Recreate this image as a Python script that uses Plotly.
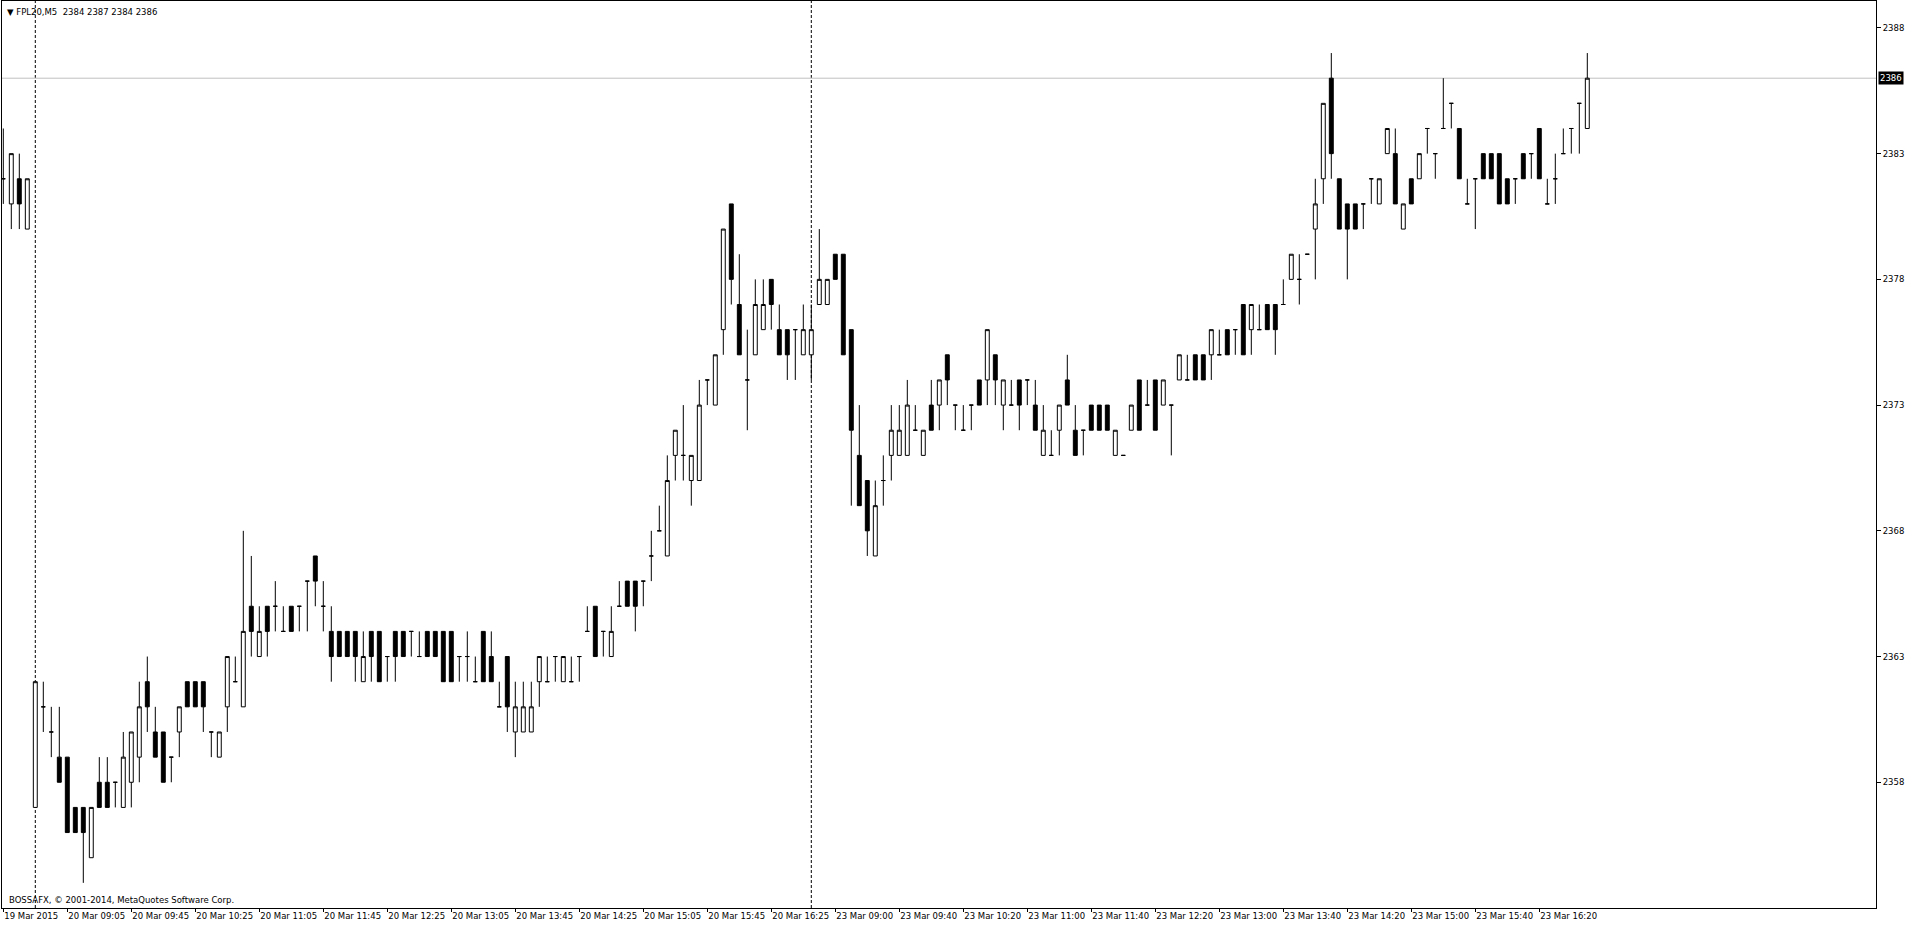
import plotly.graph_objects as go

# ---- data (FPL20, M5) ----
opens = [2382, 2381, 2382, 2380,
         2357, 2361, 2360, 2359, 2359, 2357, 2357, 2355, 2358, 2358, 2358, 2357, 2358, 2359, 2362, 2360,
         2360, 2359, 2360, 2362, 2362, 2362, 2360, 2359, 2361, 2362, 2361, 2365, 2363, 2365, 2365, 2364,
         2365, 2365, 2366, 2367, 2365, 2364, 2364, 2364, 2364, 2362, 2364, 2364, 2363, 2364, 2364, 2364,
         2363, 2364, 2364, 2364, 2364, 2363, 2363, 2362, 2364, 2363, 2361, 2363, 2360, 2360, 2360, 2362,
         2362, 2363, 2362, 2362, 2363, 2364, 2365, 2364, 2363, 2365, 2366, 2366, 2366, 2367, 2368, 2367,
         2371, 2371, 2370, 2370, 2374, 2373, 2376, 2381, 2377, 2374, 2375, 2376, 2378, 2376, 2376, 2376,
         2375, 2375,
         2377, 2377, 2379, 2379, 2376, 2371, 2370, 2367, 2370, 2371, 2371, 2371, 2372, 2371, 2373, 2373,
         2375, 2373, 2372, 2373, 2374, 2374, 2375, 2373, 2373, 2374, 2374, 2373, 2371, 2371, 2372, 2374,
         2372, 2372, 2373, 2373, 2373, 2371, 2371, 2372, 2374, 2373, 2374, 2373, 2373, 2374, 2374, 2375,
         2375, 2375, 2375, 2376, 2376, 2377, 2376, 2376, 2377, 2377, 2377, 2378, 2378, 2379, 2380, 2382,
         2386, 2382, 2381, 2381, 2381, 2382, 2381, 2383, 2383, 2380, 2382, 2382, 2384, 2383, 2384, 2385,
         2384, 2381, 2382, 2383, 2383, 2383, 2382, 2382, 2383, 2383, 2384, 2381, 2382, 2383, 2384, 2385,
         2384]
highs = [2384, 2383, 2383, 2382,
         2362, 2362, 2361, 2361, 2359, 2357, 2357, 2357, 2359, 2359, 2358, 2360, 2360, 2362, 2363, 2361,
         2360, 2359, 2361, 2362, 2362, 2362, 2360, 2360, 2363, 2363, 2368, 2367, 2365, 2365, 2366, 2365,
         2365, 2365, 2366, 2367, 2366, 2365, 2364, 2364, 2364, 2364, 2364, 2364, 2363, 2364, 2364, 2364,
         2364, 2364, 2364, 2364, 2364, 2363, 2364, 2363, 2364, 2364, 2362, 2363, 2362, 2362, 2362, 2363,
         2363, 2363, 2363, 2363, 2363, 2365, 2365, 2364, 2365, 2366, 2366, 2366, 2366, 2368, 2369, 2371,
         2372, 2373, 2371, 2374, 2374, 2375, 2380, 2381, 2379, 2376, 2378, 2378, 2378, 2377, 2376, 2376,
         2377, 2377,
         2380, 2378, 2379, 2379, 2376, 2373, 2370, 2370, 2371, 2373, 2373, 2374, 2373, 2372, 2374, 2374,
         2375, 2373, 2373, 2373, 2374, 2376, 2375, 2374, 2374, 2374, 2374, 2374, 2373, 2372, 2373, 2375,
         2373, 2372, 2373, 2373, 2373, 2372, 2371, 2373, 2374, 2374, 2374, 2374, 2373, 2375, 2375, 2375,
         2375, 2376, 2376, 2376, 2376, 2377, 2377, 2377, 2377, 2377, 2378, 2379, 2379, 2379, 2382, 2385,
         2387, 2382, 2381, 2381, 2381, 2382, 2382, 2384, 2384, 2381, 2382, 2383, 2384, 2383, 2386, 2385,
         2384, 2382, 2382, 2383, 2383, 2383, 2382, 2382, 2383, 2383, 2384, 2382, 2383, 2384, 2384, 2385,
         2387]
lows = [2381, 2380, 2380, 2380,
        2357, 2360, 2359, 2358, 2356, 2356, 2354, 2355, 2357, 2357, 2357, 2357, 2357, 2358, 2360, 2359,
        2358, 2358, 2359, 2361, 2361, 2360, 2359, 2359, 2360, 2362, 2361, 2363, 2363, 2363, 2364, 2364,
        2364, 2364, 2364, 2365, 2364, 2362, 2363, 2363, 2362, 2362, 2362, 2362, 2362, 2362, 2363, 2363,
        2363, 2363, 2363, 2363, 2362, 2362, 2362, 2362, 2362, 2362, 2361, 2360, 2359, 2360, 2360, 2361,
        2362, 2362, 2362, 2362, 2362, 2364, 2363, 2363, 2363, 2365, 2365, 2364, 2365, 2366, 2368, 2367,
        2370, 2370, 2369, 2370, 2373, 2373, 2375, 2377, 2375, 2372, 2375, 2376, 2376, 2375, 2374, 2374,
        2375, 2374,
        2377, 2377, 2378, 2375, 2369, 2369, 2367, 2367, 2369, 2370, 2371, 2371, 2372, 2371, 2372, 2372,
        2373, 2372, 2372, 2372, 2373, 2373, 2373, 2372, 2373, 2372, 2373, 2372, 2371, 2371, 2371, 2373,
        2371, 2371, 2372, 2372, 2372, 2371, 2371, 2372, 2372, 2373, 2372, 2373, 2371, 2374, 2374, 2374,
        2374, 2374, 2375, 2375, 2375, 2375, 2375, 2376, 2376, 2375, 2377, 2378, 2377, 2379, 2378, 2381,
        2382, 2380, 2378, 2380, 2380, 2381, 2381, 2383, 2381, 2380, 2381, 2382, 2383, 2382, 2384, 2384,
        2382, 2381, 2380, 2382, 2382, 2381, 2381, 2381, 2382, 2382, 2382, 2381, 2381, 2383, 2383, 2383,
        2384]
closes = [2382, 2383, 2381, 2382,
          2362, 2361, 2360, 2358, 2356, 2356, 2356, 2357, 2357, 2357, 2358, 2359, 2360, 2361, 2361, 2359,
          2358, 2359, 2361, 2361, 2361, 2361, 2360, 2360, 2363, 2362, 2364, 2364, 2364, 2364, 2365, 2364,
          2364, 2365, 2366, 2366, 2365, 2363, 2363, 2363, 2363, 2363, 2363, 2362, 2363, 2363, 2363, 2364,
          2363, 2363, 2363, 2362, 2362, 2363, 2363, 2362, 2362, 2362, 2361, 2361, 2361, 2361, 2361, 2363,
          2362, 2363, 2363, 2362, 2363, 2364, 2363, 2364, 2364, 2365, 2365, 2365, 2366, 2367, 2368, 2370,
          2372, 2371, 2371, 2373, 2374, 2375, 2380, 2378, 2375, 2374, 2377, 2377, 2377, 2375, 2375, 2376,
          2376, 2376,
          2378, 2378, 2378, 2375, 2372, 2369, 2368, 2369, 2370, 2372, 2372, 2373, 2372, 2372, 2372, 2374,
          2374, 2373, 2372, 2373, 2373, 2376, 2374, 2374, 2373, 2373, 2374, 2372, 2372, 2371, 2373, 2373,
          2371, 2372, 2372, 2372, 2372, 2372, 2371, 2373, 2372, 2373, 2372, 2374, 2373, 2375, 2374, 2374,
          2374, 2376, 2375, 2375, 2376, 2375, 2377, 2376, 2376, 2376, 2377, 2379, 2378, 2379, 2381, 2385,
          2383, 2380, 2380, 2380, 2381, 2382, 2382, 2384, 2381, 2381, 2381, 2383, 2384, 2383, 2384, 2385,
          2382, 2381, 2382, 2382, 2382, 2381, 2381, 2382, 2382, 2383, 2382, 2381, 2382, 2383, 2384, 2385,
          2386]

day_start_bars = [4, 101]            # first bar of 20 Mar and of 23 Mar
time_labels = ["19 Mar 2015", "20 Mar 09:05", "20 Mar 09:45", "20 Mar 10:25", "20 Mar 11:05",
               "20 Mar 11:45", "20 Mar 12:25", "20 Mar 13:05", "20 Mar 13:45", "20 Mar 14:25",
               "20 Mar 15:05", "20 Mar 15:45", "20 Mar 16:25", "23 Mar 09:00", "23 Mar 09:40",
               "23 Mar 10:20", "23 Mar 11:00", "23 Mar 11:40", "23 Mar 12:20", "23 Mar 13:00",
               "23 Mar 13:40", "23 Mar 14:20", "23 Mar 15:00", "23 Mar 15:40", "23 Mar 16:20"]
label_every = 8                       # one time label every 8 bars
price_ticks = [2358, 2363, 2368, 2373, 2378, 2383, 2388]
symbol = "FPL20,M5"

# ---- figure ----
bars = list(range(len(closes)))
FONT = "DejaVu Sans"
FS = 8.5

fig = go.Figure(go.Candlestick(
    x=bars, open=opens, high=highs, low=lows, close=closes,
    increasing=dict(line=dict(color="black", width=1), fillcolor="white"),
    decreasing=dict(line=dict(color="black", width=1), fillcolor="black"),
    whiskerwidth=0, hoverinfo="skip", showlegend=False,
))

L, R, T, B = 2, 40, 1, 18
W, H = 1916, 926
px_per_bar = 8.0
x0 = -1.3 / px_per_bar
x1 = x0 + (W - L - R) / px_per_bar

fig.update_layout(
    width=W, height=H,
    margin=dict(l=L, r=R, t=T, b=B, pad=0, autoexpand=False),
    paper_bgcolor="white", plot_bgcolor="white",
    font=dict(family=FONT, size=FS, color="black"),
    boxgap=0.3, boxgroupgap=0.3,
    showlegend=False,
)
fig.update_xaxes(
    range=[x0, x1], rangeslider=dict(visible=False), automargin=False,
    showgrid=False, zeroline=False,
    showline=True, mirror=True, linecolor="black", linewidth=1,
    ticks="outside", ticklen=3, tickcolor="black", tickwidth=1,
    tickvals=[i * label_every for i in range(len(time_labels))],
    ticktext=time_labels, ticklabelposition="outside right", tickangle=0,
    tickfont=dict(family=FONT, size=FS, color="black"),
)
fig.update_yaxes(
    range=[2353.0, 2389.07], side="right", automargin=False,
    showgrid=False, zeroline=False,
    showline=True, mirror=True, linecolor="black", linewidth=1,
    ticks="outside", ticklen=4, tickcolor="black", tickwidth=1,
    tickvals=price_ticks, ticktext=[str(p) for p in price_ticks],
    tickfont=dict(family=FONT, size=FS, color="black"),
)

# day separators (behind the candles)
for b in day_start_bars:
    fig.add_shape(type="line", xref="x", yref="paper", x0=b, x1=b, y0=0, y1=1,
                  line=dict(color="black", width=1, dash="3px,2px"), layer="below")

# bid line at last close
last = closes[-1]
fig.add_shape(type="line", xref="paper", yref="y", x0=0, x1=1, y0=last, y1=last,
              line=dict(color="#C0C0C0", width=1), layer="below")
fig.add_annotation(xref="paper", yref="y", x=1, y=last, xanchor="left", yanchor="middle",
                   xshift=2, text=str(last), showarrow=False, bgcolor="black", borderpad=1,
                   font=dict(family=FONT, size=FS, color="white"))

# header
fig.add_annotation(xref="paper", yref="paper", x=0, y=1, xanchor="left", yanchor="top",
                   xshift=3, yshift=-4, showarrow=False,
                   text=f"▼ {symbol}  {opens[-1]} {highs[-1]} {lows[-1]} {closes[-1]}",
                   font=dict(family=FONT, size=FS, color="black"))
# copyright
fig.add_annotation(xref="paper", yref="paper", x=0, y=0, xanchor="left", yanchor="bottom",
                   xshift=5, yshift=1, showarrow=False,
                   text="BOSSAFX, © 2001-2014, MetaQuotes Software Corp.",
                   font=dict(family=FONT, size=FS, color="black"))

fig.write_html("out.html", config={"displayModeBar": False},
               post_script="document.body.style.margin='0';")
